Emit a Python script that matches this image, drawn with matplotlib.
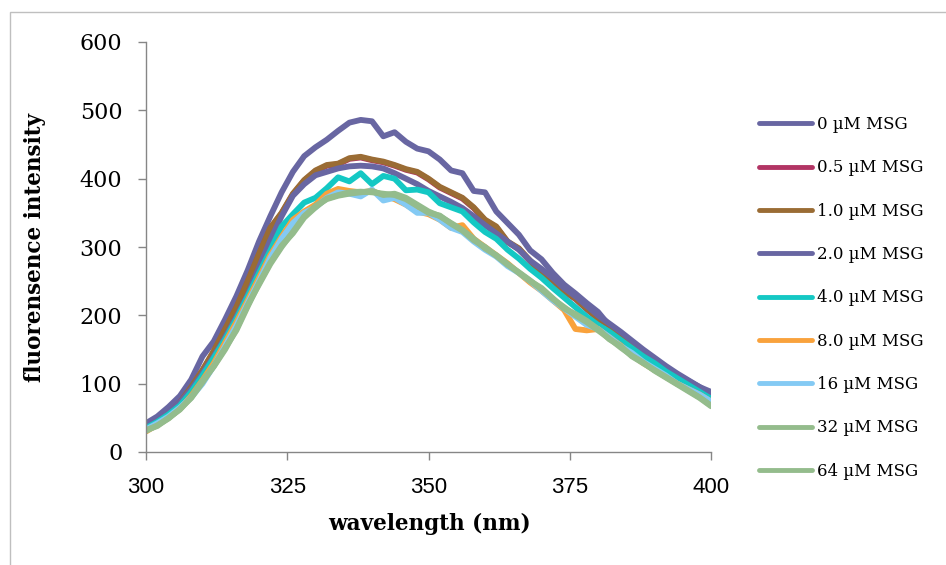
import matplotlib
matplotlib.use("Agg")
import matplotlib.pyplot as plt
from matplotlib.patches import Rectangle

wavelength = list(range(300, 401, 2))

msg_0 = [42, 52, 66, 82, 106, 140, 162, 194, 228, 266, 308, 345, 380, 410, 433, 446, 457, 470, 482, 486,
         484, 462, 468, 454, 444, 440, 428, 412, 408, 382, 380, 352, 335, 318, 295, 282, 262, 245, 232, 218,
         205, 185, 172, 160, 145, 133, 123, 113, 104, 95, 88]
msg_05 = [36, 45, 57, 72, 94, 119, 147, 179, 211, 249, 289, 327, 349, 377, 397, 411, 419, 421, 429, 431,
          427, 424, 419, 413, 409, 399, 387, 379, 371, 357, 339, 329, 307, 297, 279, 261, 251, 235, 224, 209,
          195, 185, 171, 159, 147, 134, 123, 111, 101, 91, 81]
msg_1 = [36, 45, 57, 72, 95, 120, 148, 180, 212, 250, 290, 328, 350, 378, 398, 412, 420, 422, 430, 432,
         428, 425, 420, 414, 410, 400, 388, 380, 372, 358, 340, 330, 308, 298, 280, 262, 252, 236, 225, 210,
         196, 186, 172, 160, 148, 135, 124, 112, 102, 92, 82]
msg_2 = [38, 46, 58, 72, 92, 115, 140, 168, 198, 230, 270, 310, 345, 375, 392, 405, 410, 415, 418, 419,
         418, 415, 408, 400, 392, 382, 374, 366, 357, 345, 332, 320, 308, 296, 280, 268, 255, 240, 228, 214,
         200, 188, 176, 163, 150, 138, 126, 115, 105, 95, 85]
msg_4 = [35, 44, 55, 68, 88, 112, 138, 165, 195, 228, 262, 295, 330, 348, 365, 372, 386, 402, 396, 408,
         392, 404, 400, 383, 384, 380, 364, 358, 352, 336, 322, 312, 296, 283, 268, 255, 240, 226, 212, 198,
         186, 176, 164, 152, 140, 130, 118, 108, 98, 88, 78]
msg_8 = [30, 40, 50, 63, 82, 105, 130, 160, 190, 222, 255, 288, 315, 340, 352, 362, 378, 385, 382, 380,
         382, 376, 370, 362, 352, 348, 340, 328, 332, 312, 300, 288, 276, 262, 248, 236, 222, 208, 180, 178,
         180, 168, 156, 142, 130, 120, 110, 100, 92, 84, 74]
msg_16 = [33, 42, 52, 65, 80, 100, 126, 155, 185, 218, 250, 284, 312, 335, 350, 358, 372, 380, 378, 374,
          384, 368, 372, 362, 350, 350, 340, 328, 322, 308, 296, 286, 272, 262, 250, 236, 222, 210, 198, 186,
          180, 168, 155, 145, 132, 122, 112, 100, 92, 84, 74]
msg_32 = [32, 38, 50, 62, 80, 104, 125, 150, 180, 215, 245, 275, 300, 322, 345, 360, 370, 375, 378, 380,
          382, 376, 378, 372, 362, 352, 345, 335, 325, 312, 298, 288, 275, 262, 250, 240, 225, 210, 202, 192,
          180, 165, 155, 140, 130, 120, 110, 100, 90, 80, 68]
msg_64 = [31, 39, 49, 63, 79, 102, 126, 152, 178, 213, 247, 277, 302, 320, 343, 358, 371, 376, 380, 381,
          380, 378, 376, 370, 360, 350, 346, 334, 324, 310, 300, 287, 274, 263, 251, 238, 224, 212, 200, 190,
          178, 166, 153, 141, 131, 119, 109, 99, 89, 79, 67]

series = [msg_0, msg_05, msg_1, msg_2, msg_4, msg_8, msg_16, msg_32, msg_64]
labels = ["0 µM MSG", "0.5 µM MSG", "1.0 µM MSG", "2.0 µM MSG", "4.0 µM MSG",
          "8.0 µM MSG", "16 µM MSG", "32 µM MSG", "64 µM MSG"]
colors = ["#6866A2", "#B23464", "#9A6C34", "#6866A2", "#14C8C4",
          "#F9A23C", "#84CAF4", "#94BC8C", "#94BC8C"]

x_ticks = [300, 325, 350, 375, 400]
y_ticks = [0, 100, 200, 300, 400, 500, 600]

fig = plt.figure(figsize=(9.46, 5.65), dpi=100)
ax = fig.add_axes([146/946, 1-452/565, (711-146)/946, (452-42)/565])

for vals, lab, col in zip(series, labels, colors):
    ax.plot(wavelength, vals, color=col, lw=4.2, label=lab,
            solid_joinstyle="round", solid_capstyle="round")

ax.set_xlim(300, 400)
ax.set_ylim(0, 600)
ax.set_xticks(x_ticks)
ax.set_yticks(y_ticks)
for s in ["top", "right"]:
    ax.spines[s].set_visible(False)
for s in ["left", "bottom"]:
    ax.spines[s].set_color("#868686")
    ax.spines[s].set_linewidth(1.0)
ax.tick_params(axis="both", direction="out", length=6, width=1.0, color="#868686")
ax.tick_params(axis="y", pad=11)
ax.tick_params(axis="x", pad=12)
for t in ax.get_yticklabels():
    t.set_fontfamily("DejaVu Serif")
    t.set_fontsize(16)
for t in ax.get_xticklabels():
    t.set_fontfamily("Liberation Sans")
    t.set_fontsize(16)

fig.text(429/946, 1-524/565, "wavelength (nm)", ha="center", va="center",
         fontfamily="DejaVu Serif", fontweight="bold", fontsize=15.5)
fig.text(35/946, 1-248/565, "fluorensence intensity", ha="center", va="center",
         rotation=90, fontfamily="DejaVu Serif", fontweight="bold", fontsize=15.5)

leg = ax.legend(loc="upper left", bbox_to_anchor=(759/946, 1-116/565),
                bbox_transform=fig.transFigure, frameon=False,
                prop={"family": "DejaVu Serif", "size": 12},
                handlelength=3.2, handletextpad=0.3, labelspacing=1.58,
                borderpad=0, borderaxespad=0)
for h in leg.get_lines():
    h.set_linewidth(3.5)
    h.set_solid_capstyle("round")

fig.patches.append(Rectangle((10/946, -0.1), 1.2, 1.1 - 12/565, transform=fig.transFigure,
                             fill=False, edgecolor="#BFBFBF", lw=1.0, zorder=-1))

fig.savefig("out.png", dpi=100)
